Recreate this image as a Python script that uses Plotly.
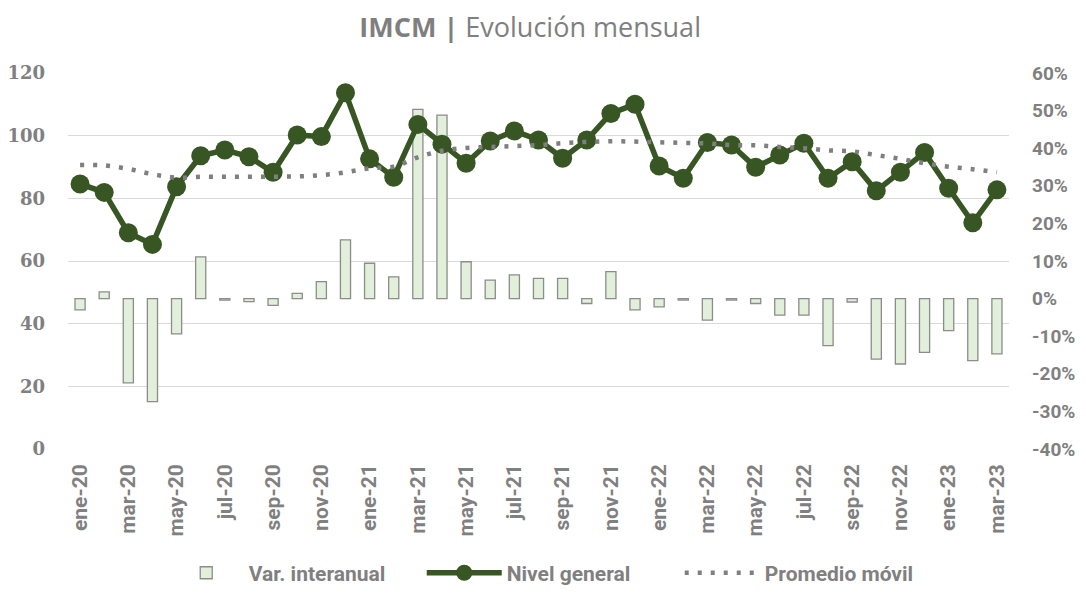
import plotly.graph_objects as go

months = ["ene", "feb", "mar", "abr", "may", "jun", "jul", "ago", "sep", "oct", "nov", "dic"]
categories = [f"{m}-{y}" for y in ["20", "21", "22"] for m in months] + ["ene-23", "feb-23", "mar-23"]

nivel_general = [84.6, 81.9, 69.0, 65.3, 83.7, 93.6, 95.4, 93.3, 88.3, 100.2, 99.7, 113.7,
                 92.6, 86.7, 103.6, 97.3, 91.2, 98.3, 101.5, 98.6, 92.8, 98.6, 107.1, 110.0,
                 90.3, 86.4, 97.8, 97.0, 89.9, 93.8, 97.6, 86.4, 91.7, 82.4, 88.3, 94.6,
                 83.2, 72.2, 82.7]

promedio_movil = [90.6, 90.5, 89.4, 87.7, 86.6, 86.9, 86.9, 86.9, 86.9, 87.0, 87.4, 88.3,
                  89.6, 90.1, 93.1, 95.2, 96.1, 96.4, 96.7, 97.0, 97.6, 98.0, 98.2, 98.1,
                  97.9, 97.7, 97.5, 97.0, 96.9, 96.4, 96.0, 95.3, 95.0, 93.8, 92.6, 91.2,
                  90.1, 89.3, 88.3]

var_interanual = [-3.0, 1.8, -22.4, -27.4, -9.4, 11.1, -0.4, -0.8, -1.8, 1.4, 4.5, 15.6,
                  9.4, 5.8, 50.3, 48.8, 9.8, 4.9, 6.3, 5.4, 5.4, -1.3, 7.2, -3.0,
                  -2.2, -0.4, -5.7, -0.4, -1.3, -4.4, -4.4, -12.5, -0.9, -16.1, -17.4, -14.3,
                  -8.5, -16.5, -14.7]

left_ticks = [0, 20, 40, 60, 80, 100, 120]
right_ticks = [-40, -30, -20, -10, 0, 10, 20, 30, 40, 50, 60]

GRAY = "#808080"
GREEN = "#375623"

fig = go.Figure()
fig.add_trace(go.Bar(
    x=categories, y=var_interanual, name="Var. interanual",
    marker=dict(color="#E2EFDA", line=dict(color="#8C8C8C", width=1.3)),
    width=0.42, yaxis="y",
))
fig.add_trace(go.Scatter(
    x=categories, y=nivel_general, name="Nivel general", mode="lines+markers",
    line=dict(color=GREEN, width=5.5), marker=dict(color=GREEN, size=19),
    yaxis="y2",
))
fig.add_trace(go.Scatter(
    x=categories, y=promedio_movil, name="Promedio móvil", mode="lines",
    line=dict(color="#7F7F7F", width=4.5, dash="4px,9px", shape="spline"),
    yaxis="y2",
))

# page body has an 8px default margin: figure is sized so it ends at the window edge
fig.update_layout(
    width=1070, height=578,
    margin=dict(l=60, r=69, t=65, b=137, autoexpand=False),
    plot_bgcolor="white", paper_bgcolor="white",
    title=dict(
        text="<b>IMCM |</b> Evolución mensual",
        x=0.488, xanchor="center", y=0.967, yanchor="middle",
        font=dict(family="Open Sans", size=27, color="#7F7F7F"),
    ),
    showlegend=True,
    legend=dict(
        orientation="h", x=0.513, xanchor="center", y=-0.33, yanchor="middle",
        font=dict(family="Roboto", size=21, color=GRAY, weight="bold"),
        itemwidth=75, entrywidth=168, traceorder="normal",
    ),
    xaxis=dict(
        type="category", range=[-0.5, 38.5],
        tickvals=categories[::2], ticktext=categories[::2],
        tickangle=-90, ticks="",
        tickfont=dict(family="Roboto", size=21, color=GRAY, weight="bold"),
        showgrid=False, showline=False, zeroline=False,
        ticklabelstandoff=10,
    ),
    yaxis=dict(
        side="right", range=[-40, 60], tickvals=right_ticks,
        ticktext=[f"{v}%" for v in right_ticks],
        tickfont=dict(family="Roboto", size=19, color=GRAY, weight="bold"),
        showgrid=False, zeroline=False, showline=False, ticks="",
        ticklabelstandoff=22,
    ),
    yaxis2=dict(
        side="left", overlaying="y", range=[0, 120], tickvals=left_ticks,
        tickfont=dict(family="DejaVu Serif", size=18, color=GRAY, weight="bold"),
        showgrid=True, gridcolor="#D9D9D9", gridwidth=1.3,
        zeroline=False, showline=False, ticks="",
        ticklabelstandoff=22,
    ),
)

fig.write_html("out.html")
